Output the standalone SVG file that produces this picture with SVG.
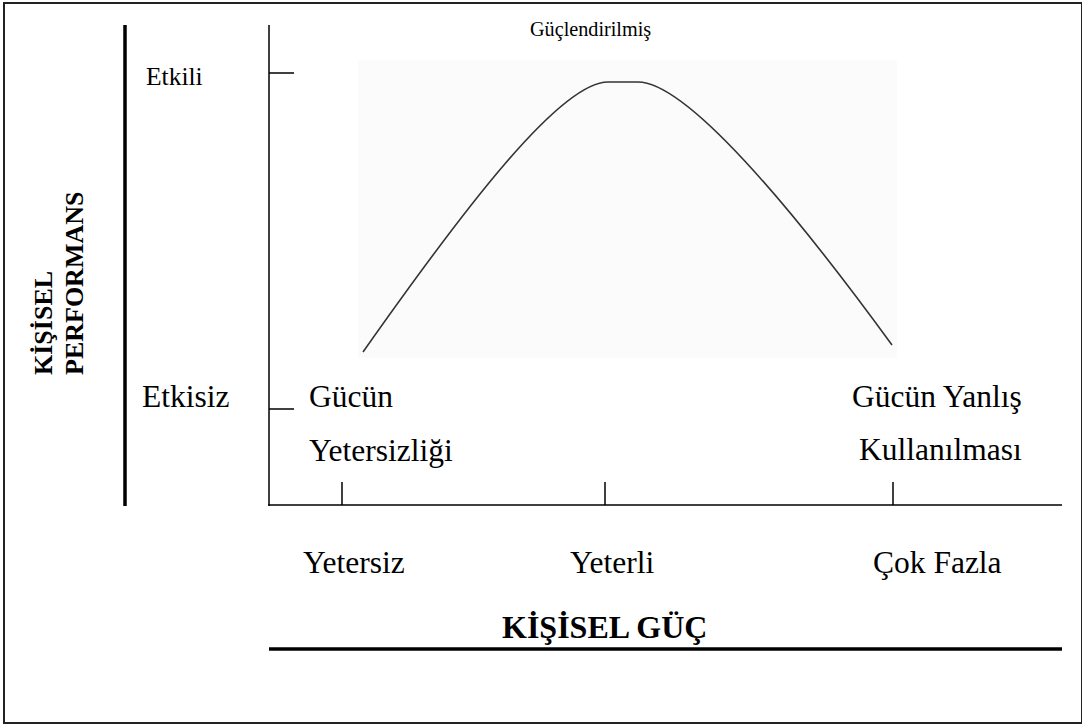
<svg xmlns="http://www.w3.org/2000/svg" width="1082" height="727" viewBox="0 0 1082 727">
  <style>
    .t { font-family: "Liberation Serif", "Times New Roman", serif; fill: #000; }
    .b { font-weight: bold; }
    .ax { stroke: #000; stroke-width: 1.5; fill: none; }
    .thick { stroke: #000; stroke-width: 3.5; fill: none; }
  </style>
  <rect id="frame" x="4" y="3" width="1078" height="720" fill="#fff" stroke="#222" stroke-width="2"/>
  <rect id="plot-bg" x="358" y="60" width="539" height="298" fill="#fbfbfb"/>

  <g id="axes">
    <line class="thick" x1="125" y1="25" x2="125" y2="506"/>
    <line class="ax" x1="269" y1="25" x2="269" y2="506"/>
    <line class="ax" x1="268.3" y1="505" x2="1062" y2="505"/>
    <line class="ax" x1="269" y1="73" x2="294" y2="73"/>
    <line class="ax" x1="269" y1="409" x2="294" y2="409"/>
    <line class="ax" x1="342" y1="482" x2="342" y2="505"/>
    <line class="ax" x1="605" y1="482" x2="605" y2="505"/>
    <line class="ax" x1="893" y1="482" x2="893" y2="505"/>
    <line class="thick" x1="269" y1="649" x2="1062" y2="649"/>
  </g>

  <g id="curve">
    <path d="M363,352 C463,210 560,82 608,82 L638,82 C686,82 790,205 892,345" fill="none" stroke="#333" stroke-width="1.6"/>
  </g>

  <g id="y-label">
    <text class="t b" font-size="26" transform="translate(52,375) rotate(-90)">KİŞİSEL</text>
    <text class="t b" font-size="26" transform="translate(83,375) rotate(-90)">PERFORMANS</text>
  </g>

  <g id="label-guclendirilmis"><text class="t" x="530" y="36" font-size="20.2">Güçlendirilmiş</text></g>
  <g id="label-etkili"><text class="t" x="146" y="85" font-size="25.5">Etkili</text></g>
  <g id="label-etkisiz"><text class="t" x="142" y="407" font-size="31.5">Etkisiz</text></g>
  <g id="label-gucun-yetersizligi">
    <text class="t" x="309" y="407" font-size="31.5">Gücün</text>
    <text class="t" x="309" y="461" font-size="31.5">Yetersizliği</text>
  </g>
  <g id="label-gucun-yanlis">
    <text class="t" x="852" y="407" font-size="31.5">Gücün Yanlış</text>
    <text class="t" x="859" y="460" font-size="31.5">Kullanılması</text>
  </g>
  <g id="x-ticks-labels">
    <text class="t" x="303" y="573" font-size="31.5">Yetersiz</text>
    <text class="t" x="570" y="573" font-size="31.5">Yeterli</text>
    <text class="t" x="873" y="573" font-size="31.5">Çok Fazla</text>
  </g>
  <g id="x-label"><text class="t b" x="502" y="638" font-size="32">KİŞİSEL GÜÇ</text></g>
</svg>
